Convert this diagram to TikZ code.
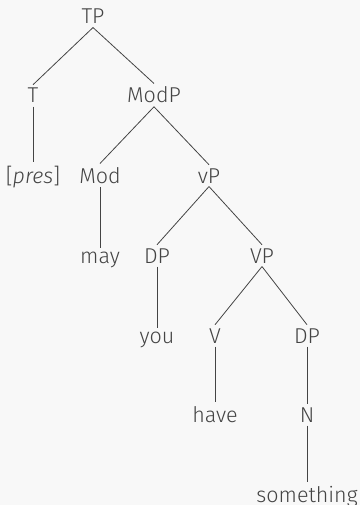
\documentclass[tikz,border=0pt]{standalone}
\usepackage{fontspec}
\setmainfont{Fira Sans Light}
\definecolor{bg}{HTML}{F8F8F8}
\definecolor{ink}{HTML}{444444}
\begin{document}
\begin{tikzpicture}[x=1pt,y=-1pt,
  lab/.style={anchor=base,inner sep=0.3333em,text=ink,font=\fontsize{21.5}{25}\selectfont},
  edge/.style={draw=ink,line width=0.8pt}]
\fill[bg] (0,0) rectangle (360,505);
\useasboundingbox (0,0) rectangle (360,505);
\node[lab] (TP) at (93,24) {TP};
\node[lab] (T) at (33,103) {T};
\node[lab] (ModP) at (154,103) {ModP};
\node[lab] (pres) at (33,183) {[\textit{pres}]};
\node[lab] (Mod) at (100,183) {Mod};
\node[lab] (vP) at (209,183) {vP};
\node[lab] (may) at (100,263) {may};
\node[lab] (DP1) at (157,263) {DP};
\node[lab] (VP) at (262,263) {VP};
\node[lab] (you) at (157,343) {you};
\node[lab] (V) at (215,343) {V};
\node[lab] (DP2) at (307,343) {DP};
\node[lab] (have) at (215,422) {have};
\node[lab] (N) at (307,422) {N};
\node[lab] (some) at (307,502) {something};
\foreach \a/\b in {TP/T,TP/ModP,T/pres,ModP/Mod,ModP/vP,Mod/may,vP/DP1,vP/VP,DP1/you,VP/V,VP/DP2,V/have,DP2/N,N/some}
  \draw[edge] (\a.south) -- (\b.north);
\end{tikzpicture}
\end{document}
